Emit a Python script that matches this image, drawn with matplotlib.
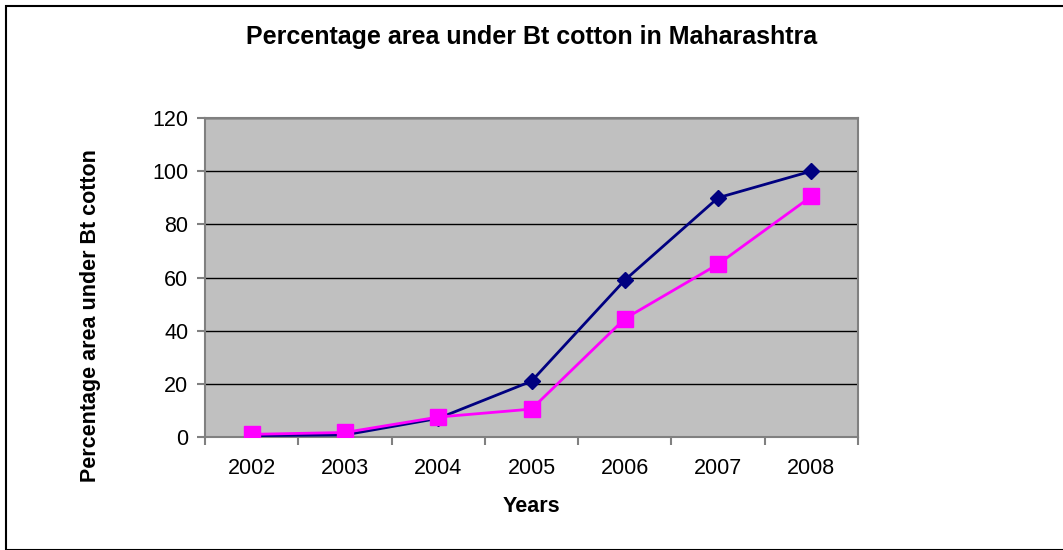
import matplotlib.pyplot as plt
import numpy as np

years = ['2002', '2003', '2004', '2005', '2006', '2007', '2008']
series_a = [0.5, 0.8, 7, 21, 59, 90, 100]
series_b = [1, 1.7, 7.5, 10.5, 44.5, 65, 90.5]

plt.rcParams['font.family'] = 'Liberation Sans'

fig = plt.figure(figsize=(10.63, 5.5), dpi=100)
ax = fig.add_axes([205/1063, 1-437/550, 653/1063, 319/550])
ax.set_facecolor('#c0c0c0')

x = np.arange(len(years))
ax.plot(x, series_a, color='#000080', marker='D', markersize=8, lw=2, zorder=3)
ax.plot(x, series_b, color='#ff00ff', marker='s', markersize=11, lw=2, zorder=4)

ax.set_xlim(-0.5, len(years) - 0.5)
ax.set_ylim(0, 120)
ax.set_yticks(range(0, 121, 20))
ax.yaxis.grid(True, color='black', lw=1)
ax.set_axisbelow(True)
ax.set_xticks(x)
ax.set_xticklabels(years, fontsize=15.5)
ax.tick_params(axis='x', length=0, pad=15)
ax.set_xticks(np.arange(-0.5, len(years)), minor=True)
ax.tick_params(axis='x', which='minor', length=6, color='#808080', width=1.5)
ax.tick_params(axis='y', labelsize=15.5, length=6, color='#808080', width=1.5, pad=6)
for s in ax.spines.values():
    s.set_color('#808080')
    s.set_linewidth(1.5)

ax.set_xlabel('Years', fontsize=15.5, fontweight='bold', labelpad=12)
ax.set_ylabel('Percentage area under Bt cotton', fontsize=15.5, fontweight='bold')
ax.yaxis.set_label_coords(-0.159, 0.382)
fig.text(532/1063, 1-37/550, 'Percentage area under Bt cotton in Maharashtra',
         ha='center', va='center', fontsize=18, fontweight='bold')

fig.patches.append(plt.Rectangle((6/1063, 0.0), 1.0, 1-6/550, transform=fig.transFigure,
                                 fill=False, edgecolor='black', lw=1.5))

fig.savefig('out.png', dpi=100)
